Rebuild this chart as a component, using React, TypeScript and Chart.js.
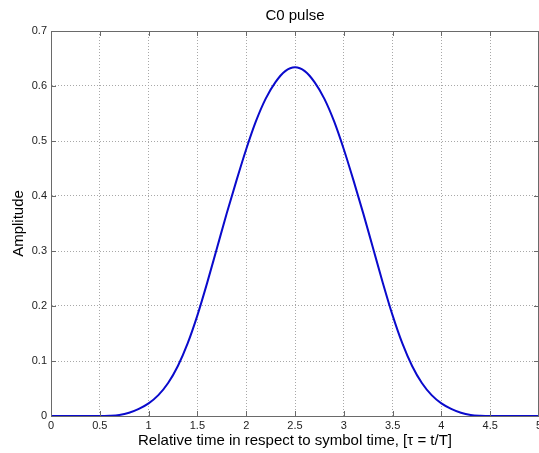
import React, { useEffect, useRef } from "react";
import { Chart, registerables } from "chart.js";

Chart.register(...registerables);

const tau = [
  0, 0.1, 0.2, 0.3, 0.4, 0.5, 0.6, 0.7, 0.8, 0.9,
  1.0, 1.1, 1.2, 1.3, 1.4, 1.5, 1.6, 1.7, 1.8, 1.9,
  2.0, 2.1, 2.2, 2.3, 2.4, 2.5, 2.6, 2.7, 2.8, 2.9,
  3.0, 3.1, 3.2, 3.3, 3.4, 3.5, 3.6, 3.7, 3.8, 3.9,
  4.0, 4.1, 4.2, 4.3, 4.4, 4.5, 4.6, 4.7, 4.8, 4.9, 5.0,
];

const amplitude = [
  0, 0, 0, 0, 0, 0, 0.0005, 0.002, 0.006, 0.013,
  0.023, 0.038, 0.06, 0.091, 0.132, 0.183, 0.242, 0.305, 0.368, 0.428,
  0.485, 0.536, 0.577, 0.607, 0.627, 0.634, 0.627, 0.607, 0.577, 0.536,
  0.485, 0.428, 0.368, 0.305, 0.242, 0.183, 0.132, 0.091, 0.06, 0.038,
  0.023, 0.013, 0.006, 0.002, 0.0005, 0, 0, 0, 0, 0, 0,
];

const xTickValues = [0, 0.5, 1, 1.5, 2, 2.5, 3, 3.5, 4, 4.5, 5];
const yTickValues = [0, 0.1, 0.2, 0.3, 0.4, 0.5, 0.6, 0.7];

const chartTitle = "C0 pulse";
const xAxisTitle = "Relative time in respect to symbol time, [\u03c4 = t/T]";
const yAxisTitle = "Amplitude";

const FONT = "'Liberation Sans', Arial, sans-serif";
const AXIS_COLOR = "#6a6a6a";
const GRID_COLOR = "#a8a8a8";

const decorPlugin = {
  id: "decor",
  afterDraw(chart: any) {
    const { ctx, chartArea } = chart;
    const { left, right, top, bottom } = chartArea;
    const xs = chart.scales.x;
    const ys = chart.scales.y;
    ctx.save();
    ctx.strokeStyle = AXIS_COLOR;
    ctx.lineWidth = 1;
    ctx.beginPath();
    ctx.moveTo(left, top + 0.5);
    ctx.lineTo(right, top + 0.5);
    ctx.moveTo(right - 0.5, top);
    ctx.lineTo(right - 0.5, bottom);
    ctx.stroke();
    const tl = 5;
    ctx.beginPath();
    xTickValues.forEach((v) => {
      const px = Math.round(xs.getPixelForValue(v)) + 0.5;
      ctx.moveTo(px, bottom);
      ctx.lineTo(px, bottom - tl);
      ctx.moveTo(px, top);
      ctx.lineTo(px, top + tl);
    });
    yTickValues.forEach((v) => {
      const py = Math.round(ys.getPixelForValue(v)) + 0.5;
      ctx.moveTo(left, py);
      ctx.lineTo(left + tl, py);
      ctx.moveTo(right, py);
      ctx.lineTo(right - tl, py);
    });
    ctx.stroke();
    ctx.fillStyle = "#000";
    ctx.font = `15px ${FONT}`;
    ctx.textAlign = "center";
    ctx.textBaseline = "middle";
    ctx.fillText(chartTitle, (left + right) / 2, 16);
    ctx.fillText(xAxisTitle, (left + right) / 2, 441);
    ctx.translate(19, (top + bottom) / 2);
    ctx.rotate(-Math.PI / 2);
    ctx.fillText(yAxisTitle, 0, 0);
    ctx.restore();
  },
};

export default function App() {
  const canvasRef = useRef<HTMLCanvasElement | null>(null);

  useEffect(() => {
    document.body.style.margin = "0";
    const canvas = canvasRef.current;
    if (!canvas) return;
    const points = tau.map((t, i) => ({ x: t, y: amplitude[i] }));
    const chart = new Chart(canvas, {
      type: "line",
      data: {
        datasets: [
          {
            data: points,
            borderColor: "#0a0acc",
            borderWidth: 2,
            pointRadius: 0,
            fill: false,
            cubicInterpolationMode: "monotone",
          },
        ],
      },
      options: {
        animation: false,
        responsive: false,
        maintainAspectRatio: false,
        layout: { padding: { top: 31, right: 0, left: 0, bottom: 0 } },
        plugins: {
          legend: { display: false },
          title: { display: false },
          tooltip: { enabled: false },
        },
        scales: {
          x: {
            type: "linear",
            min: 0,
            max: 5,
            afterBuildTicks: (s: any) => {
              s.ticks = xTickValues.map((v) => ({ value: v }));
            },
            afterFit: (s: any) => {
              s.height = 37;
              s.paddingLeft = 0;
              s.paddingRight = 0;
            },
            ticks: {
              autoSkip: false,
              maxRotation: 0,
              padding: 3,
              color: "#222",
              font: { family: FONT, size: 11 },
              callback: (v: any) => String(v),
            },
            grid: {
              color: GRID_COLOR,
              drawTicks: false,
              lineWidth: 1,
            },
            border: { color: AXIS_COLOR, width: 1, dash: [1, 2] },
          },
          y: {
            type: "linear",
            min: 0,
            max: 0.7,
            afterBuildTicks: (s: any) => {
              s.ticks = yTickValues.map((v) => ({ value: v }));
            },
            afterFit: (s: any) => {
              s.width = 51;
              s.paddingTop = 0;
              s.paddingBottom = 0;
            },
            ticks: {
              autoSkip: false,
              padding: 4,
              color: "#222",
              font: { family: FONT, size: 11 },
              callback: (v: any) => String(Math.round(Number(v) * 10) / 10),
            },
            grid: {
              color: GRID_COLOR,
              drawTicks: false,
              lineWidth: 1,
            },
            border: { color: AXIS_COLOR, width: 1, dash: [1, 2] },
          },
        },
      },
      plugins: [decorPlugin],
    } as any);
    return () => chart.destroy();
  }, []);

  return (
    <div style={{ width: 539, height: 453, background: "#fff" }}>
      <canvas ref={canvasRef} width={539} height={453} style={{ display: "block" }} />
    </div>
  );
}
